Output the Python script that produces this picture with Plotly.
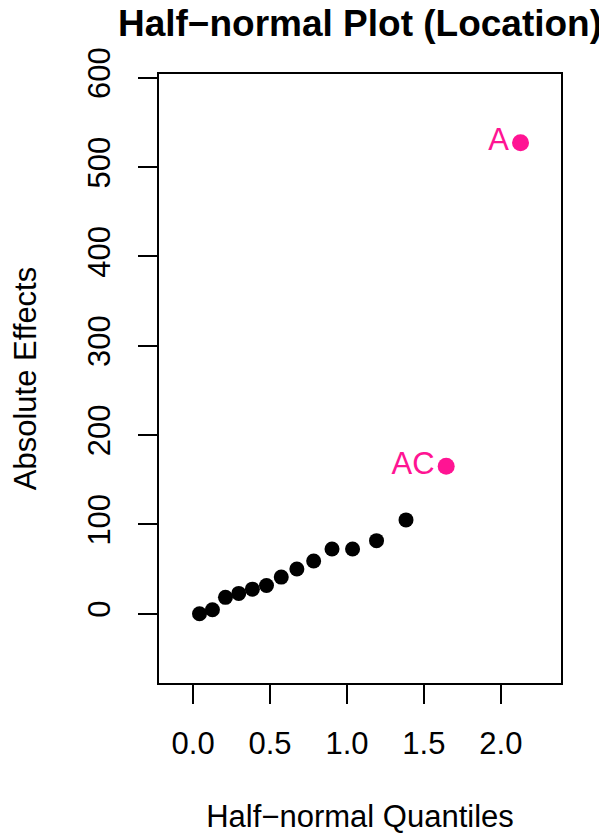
import plotly.graph_objects as go

# Half-normal quantiles and absolute effects
quantiles = [0.0418, 0.1257, 0.2104, 0.2967, 0.3853, 0.4771, 0.5730, 0.6745,
             0.7836, 0.9029, 1.0364, 1.1922, 1.3837, 1.6449, 2.1280]
effects = [0.0, 4.5, 18.3, 22.7, 27.5, 31.6, 41.0, 50.0,
           59.0, 72.5, 72.5, 81.8, 105.0, 165.0, 527.4]
labels = ["", "", "", "", "", "", "", "", "", "", "", "", "", "AC", "A"]
significant = [False] * 13 + [True, True]

x_ticks = [0.0, 0.5, 1.0, 1.5, 2.0]
x_tick_text = ["0.0", "0.5", "1.0", "1.5", "2.0"]
y_ticks = [0, 100, 200, 300, 400, 500, 600]
y_tick_text = ["0", "100", "200", "300", "400", "500", "600"]

FONT = "Liberation Sans, Arial, Helvetica, sans-serif"
PINK = "#FF1493"
BASE = 31

nx = [q for q, s in zip(quantiles, significant) if not s]
ny = [e for e, s in zip(effects, significant) if not s]
sx = [q for q, s in zip(quantiles, significant) if s]
sy = [e for e, s in zip(effects, significant) if s]
sl = [l for l, s in zip(labels, significant) if s]

fig = go.Figure()
fig.add_trace(go.Scatter(x=nx, y=ny, mode="markers",
                         marker=dict(color="black", size=15),
                         showlegend=False, hoverinfo="x+y"))
fig.add_trace(go.Scatter(x=sx, y=sy, mode="markers+text", text=sl,
                         textposition="middle left",
                         textfont=dict(color=PINK, size=BASE, family=FONT),
                         marker=dict(color=PINK, size=17),
                         showlegend=False, hoverinfo="x+y+text"))

axis_common = dict(showline=True, linecolor="black", linewidth=2, mirror=True,
                   ticks="outside", ticklen=19, tickwidth=2, tickcolor="black",
                   showgrid=False, zeroline=False,
                   tickfont=dict(size=BASE, family=FONT, color="black"))

# The page body adds an 8px offset; the figure is sized to fill the window.
fig.update_layout(
    width=599, height=826,
    margin=dict(l=150.5, r=46.3, t=66, b=150.7, autoexpand=False),
    paper_bgcolor="white", plot_bgcolor="white",
    font=dict(family=FONT, color="black"),
    title=dict(text="<b>Half−normal Plot (Location)</b>",
               font=dict(size=37, family=FONT, color="black"),
               x=0.5, xref="paper", xanchor="center",
               y=1 - 15 / 826, yref="container", yanchor="middle"),
    xaxis=dict(range=[-0.2215, 2.391], tickvals=x_ticks, ticktext=x_tick_text,
               ticklabelstandoff=13,
               title=dict(text="Half−normal Quantiles",
                          font=dict(size=BASE, family=FONT, color="black"),
                          standoff=47),
               **axis_common),
    yaxis=dict(range=[-77.6, 604.3], tickvals=y_ticks, ticktext=y_tick_text,
               tickangle=-90, ticklabelstandoff=16,
               title=dict(text="Absolute Effects",
                          font=dict(size=BASE, family=FONT, color="black"),
                          standoff=42),
               **axis_common),
)

fig.write_html("out.html")
